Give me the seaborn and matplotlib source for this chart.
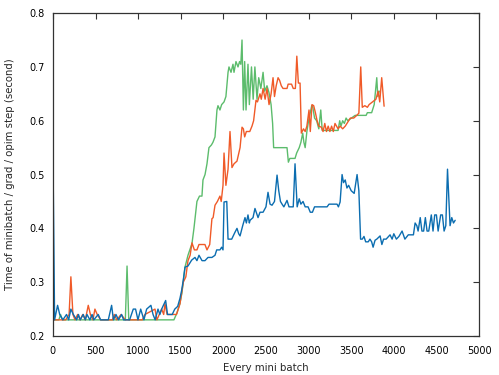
import numpy as np
import pandas as pd
import matplotlib
matplotlib.use("Agg")
import matplotlib.pyplot as plt
import seaborn as sns

# ---------------- data: (mini batch, seconds) ----------------
blue = [(0, 0.55), (20, 0.23), (55, 0.257), (80, 0.24), (117, 0.23), (160, 0.24), (185, 0.23),
        (211, 0.25), (240, 0.24), (278, 0.23), (300, 0.24), (320, 0.23), (356, 0.24), (380, 0.23),
        (400, 0.24), (434, 0.23), (460, 0.24), (480, 0.23), (532, 0.24), (560, 0.23), (600, 0.23),
        (650, 0.23), (689, 0.257), (710, 0.23), (740, 0.24), (770, 0.23), (806, 0.24), (830, 0.23),
        (865, 0.23), (900, 0.23), (943, 0.25), (970, 0.25), (998, 0.23), (1030, 0.25), (1068, 0.23),
        (1100, 0.25), (1150, 0.257), (1175, 0.24), (1200, 0.23), (1233, 0.25), (1255, 0.24),
        (1276, 0.25), (1323, 0.266), (1345, 0.24), (1374, 0.24), (1400, 0.24), (1430, 0.25),
        (1464, 0.255), (1491, 0.27), (1511, 0.285), (1530, 0.304), (1550, 0.328), (1585, 0.33),
        (1628, 0.341), (1667, 0.346), (1690, 0.34), (1714, 0.35), (1750, 0.34), (1784, 0.34),
        (1820, 0.346), (1866, 0.346), (1902, 0.35), (1922, 0.36), (1960, 0.36), (1980, 0.365),
        (1996, 0.36), (2008, 0.449), (2040, 0.45), (2055, 0.38), (2098, 0.38), (2137, 0.393),
        (2160, 0.40), (2180, 0.39), (2196, 0.386), (2227, 0.405), (2254, 0.42), (2270, 0.41),
        (2289, 0.425), (2305, 0.41), (2313, 0.415), (2348, 0.42), (2371, 0.437), (2407, 0.42),
        (2430, 0.43), (2466, 0.43), (2500, 0.44), (2524, 0.467), (2548, 0.445), (2571, 0.443),
        (2600, 0.45), (2630, 0.499), (2650, 0.47), (2670, 0.45), (2689, 0.445), (2710, 0.44),
        (2747, 0.452), (2770, 0.44), (2795, 0.44), (2820, 0.44), (2841, 0.52), (2866, 0.44),
        (2890, 0.455), (2910, 0.445), (2935, 0.45), (2960, 0.44), (2994, 0.44), (3020, 0.43),
        (3045, 0.43), (3070, 0.44), (3217, 0.44), (3240, 0.445), (3334, 0.445), (3350, 0.44),
        (3370, 0.449), (3393, 0.50), (3410, 0.485), (3430, 0.49), (3450, 0.475), (3470, 0.48),
        (3500, 0.47), (3535, 0.465), (3569, 0.50), (3590, 0.47), (3610, 0.38), (3630, 0.38),
        (3650, 0.385), (3670, 0.375), (3700, 0.375), (3720, 0.38), (3740, 0.375), (3757, 0.365),
        (3780, 0.378), (3800, 0.38), (3839, 0.386), (3860, 0.37), (3880, 0.38), (3910, 0.38),
        (3956, 0.388), (3980, 0.38), (4000, 0.39), (4030, 0.38), (4060, 0.385), (4097, 0.395),
        (4130, 0.38), (4170, 0.388), (4200, 0.388), (4230, 0.388), (4250, 0.41), (4270, 0.405),
        (4285, 0.395), (4310, 0.42), (4330, 0.395), (4350, 0.395), (4370, 0.42), (4390, 0.395),
        (4410, 0.395), (4440, 0.425), (4460, 0.395), (4480, 0.425), (4500, 0.425), (4520, 0.395),
        (4550, 0.425), (4570, 0.425), (4590, 0.395), (4610, 0.405), (4630, 0.51), (4660, 0.405),
        (4680, 0.42), (4700, 0.41), (4720, 0.415)]

red = [(0, 0.23), (150, 0.23), (190, 0.24), (211, 0.31), (235, 0.24), (260, 0.23), (290, 0.24),
       (320, 0.23), (350, 0.24), (380, 0.23), (415, 0.257), (440, 0.24), (470, 0.23), (493, 0.25),
       (520, 0.24), (560, 0.23), (700, 0.23), (720, 0.24), (750, 0.23), (800, 0.24), (850, 0.23),
       (1050, 0.23), (1080, 0.24), (1198, 0.25), (1220, 0.23), (1276, 0.25), (1300, 0.24),
       (1315, 0.26), (1340, 0.24), (1400, 0.24), (1450, 0.24), (1470, 0.25), (1491, 0.26),
       (1530, 0.30), (1560, 0.31), (1585, 0.34), (1610, 0.35), (1632, 0.373), (1660, 0.36),
       (1690, 0.36), (1714, 0.37), (1784, 0.37), (1808, 0.36), (1840, 0.37), (1866, 0.418),
       (1880, 0.42), (1902, 0.443), (1930, 0.45), (1960, 0.46), (1975, 0.45), (1996, 0.48),
       (2008, 0.54), (2030, 0.48), (2055, 0.51), (2078, 0.58), (2101, 0.513), (2125, 0.52),
       (2160, 0.525), (2196, 0.55), (2219, 0.588), (2235, 0.585), (2250, 0.57), (2270, 0.58),
       (2310, 0.58), (2336, 0.59), (2355, 0.60), (2383, 0.638), (2400, 0.635), (2430, 0.65),
       (2445, 0.64), (2466, 0.66), (2490, 0.64), (2512, 0.66), (2536, 0.63), (2560, 0.65),
       (2583, 0.68), (2600, 0.645), (2620, 0.665), (2642, 0.68), (2660, 0.675), (2680, 0.665),
       (2700, 0.66), (2747, 0.66), (2760, 0.668), (2800, 0.668), (2820, 0.66), (2845, 0.66),
       (2862, 0.72), (2880, 0.67), (2900, 0.67), (2915, 0.577), (2940, 0.585), (2960, 0.58),
       (2980, 0.59), (3005, 0.62), (3020, 0.58), (3040, 0.63), (3060, 0.628), (3080, 0.615),
       (3100, 0.60), (3120, 0.59), (3150, 0.588), (3170, 0.58), (3190, 0.595), (3210, 0.58),
       (3230, 0.59), (3250, 0.58), (3270, 0.59), (3290, 0.58), (3310, 0.595), (3346, 0.585),
       (3370, 0.59), (3400, 0.585), (3430, 0.59), (3470, 0.60), (3490, 0.605), (3530, 0.605),
       (3565, 0.61), (3590, 0.614), (3612, 0.70), (3630, 0.625), (3660, 0.628), (3690, 0.625),
       (3710, 0.63), (3750, 0.635), (3790, 0.64), (3816, 0.655), (3835, 0.635), (3858, 0.68),
       (3886, 0.627)]

green = [(0, 0.23), (70, 0.23), (90, 0.24), (110, 0.23), (850, 0.23), (870, 0.33), (890, 0.23),
         (1420, 0.23), (1456, 0.243), (1490, 0.26), (1514, 0.28), (1550, 0.328), (1585, 0.35),
         (1632, 0.372), (1655, 0.40), (1690, 0.45), (1720, 0.46), (1749, 0.46), (1761, 0.49),
         (1785, 0.50), (1808, 0.52), (1831, 0.55), (1860, 0.555), (1878, 0.56), (1902, 0.57),
         (1925, 0.62), (1937, 0.628), (1960, 0.62), (1980, 0.63), (2008, 0.635), (2030, 0.645),
         (2055, 0.69), (2066, 0.70), (2090, 0.69), (2113, 0.705), (2125, 0.69), (2148, 0.71),
         (2172, 0.70), (2190, 0.71), (2205, 0.705), (2219, 0.75), (2235, 0.62), (2250, 0.71),
         (2266, 0.62), (2289, 0.705), (2305, 0.63), (2330, 0.70), (2350, 0.64), (2370, 0.70),
         (2395, 0.64), (2415, 0.68), (2440, 0.66), (2466, 0.69), (2485, 0.655), (2512, 0.665),
         (2536, 0.652), (2560, 0.63), (2578, 0.595), (2590, 0.55), (2747, 0.55), (2763, 0.523),
         (2780, 0.53), (2841, 0.53), (2860, 0.54), (2890, 0.55), (2910, 0.56), (2931, 0.577),
         (2945, 0.56), (2960, 0.55), (2980, 0.58), (3000, 0.60), (3037, 0.628), (3050, 0.625),
         (3070, 0.605), (3095, 0.60), (3120, 0.585), (3143, 0.62), (3160, 0.582), (3346, 0.582),
         (3365, 0.60), (3380, 0.59), (3400, 0.60), (3420, 0.595), (3440, 0.605), (3460, 0.60),
         (3546, 0.61), (3675, 0.61), (3690, 0.615), (3740, 0.615), (3770, 0.63), (3800, 0.68),
         (3812, 0.645), (3830, 0.655)]

x_ticks = [0, 500, 1000, 1500, 2000, 2500, 3000, 3500, 4000, 4500, 5000]
y_ticks = [0.2, 0.3, 0.4, 0.5, 0.6, 0.7, 0.8]
x_label = "Every mini batch"
y_label = "Time of minibatch / grad / opim step (second)"

# ---------------- plot ----------------
sns.set_style("white")
plt.rcParams['font.family'] = ['DejaVu Sans']

fig = plt.figure(figsize=(4.99, 3.75), dpi=100)
ax = fig.add_axes([0.106, 0.104, 0.854, 0.861])

frames = []
for name, pts in [("green", green), ("red", red), ("blue", blue)]:
    frames.append(pd.DataFrame({"x": [p[0] for p in pts], "y": [p[1] for p in pts], "s": name}))
df = pd.concat(frames, ignore_index=True)

palette = {"green": "#5cbc6c", "red": "#f05a28", "blue": "#0b6db0"}
sns.lineplot(data=df, x="x", y="y", hue="s", palette=palette, estimator=None,
             sort=False, linewidth=1.0, legend=False, ax=ax)

ax.set_xlim(0, 5000)
ax.set_ylim(0.2, 0.8)
ax.set_xticks(x_ticks)
ax.set_yticks(y_ticks)
ax.set_xticklabels([str(t) for t in x_ticks])
ax.set_yticklabels([f"{t:.1f}" for t in y_ticks])
ax.set_xlabel(x_label, fontsize=7.3, labelpad=5)
ax.set_ylabel(y_label, fontsize=7.3, labelpad=10)
ax.tick_params(direction="in", length=4, width=0.8, colors="#333333", labelcolor="black",
               labelsize=7, top=True, right=True)
ax.tick_params(axis="x", pad=7)
ax.tick_params(axis="y", pad=6)
for s in ax.spines.values():
    s.set_color("#333333")
    s.set_linewidth(0.9)

fig.savefig("out.png", dpi=100, facecolor="white")
